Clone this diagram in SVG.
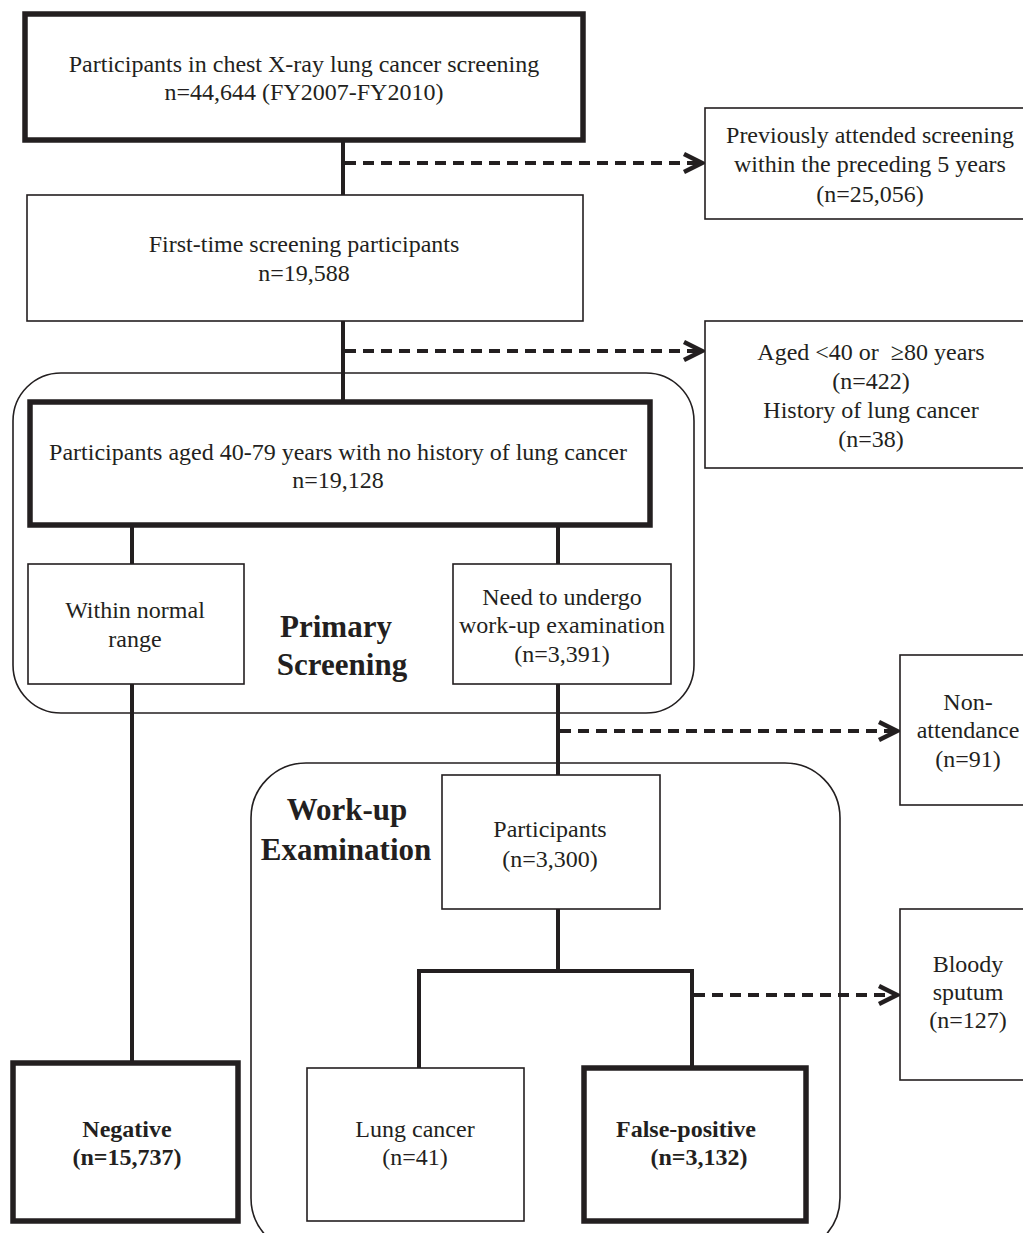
<svg xmlns="http://www.w3.org/2000/svg" width="1023" height="1233" viewBox="0 0 1023 1233">
<style>
text{font-family:"Liberation Serif","Times New Roman",serif;font-size:24px;fill:#231f20;text-anchor:middle}
.b{font-weight:bold}
.lbl{font-weight:bold;font-size:31px}
.thin{fill:#fff;stroke:#231f20;stroke-width:1.6}
.thick{fill:#fff;stroke:#231f20;stroke-width:5.5}
.grp{fill:none;stroke:#231f20;stroke-width:1.6}
.solid{stroke:#231f20;stroke-width:4;fill:none}
.dash{stroke:#231f20;stroke-width:4;fill:none;stroke-dasharray:11 7;marker-end:url(#arr)}
</style>
<defs>
<marker id="arr" markerUnits="userSpaceOnUse" markerWidth="26" markerHeight="26" refX="20" refY="11" orient="auto">
<path d="M2,2 L20,11 L2,20" fill="none" stroke="#231f20" stroke-width="4.5" stroke-linejoin="miter" stroke-dasharray="none"/>
</marker>
</defs>
<rect width="1023" height="1233" fill="#fff"/>
<g id="group-primary"><rect class="grp" x="13" y="373" width="681" height="340" rx="48"/><text class="lbl" x="336" y="637">Primary</text><text class="lbl" x="342" y="675">Screening</text></g>
<g id="group-workup"><rect class="grp" x="251" y="763" width="589" height="490" rx="55"/><text class="lbl" x="347" y="820">Work-up</text><text class="lbl" x="346" y="860">Examination</text></g>
<g id="connectors">
<line class="solid" x1="343" y1="140" x2="343" y2="195"/>
<line class="dash" x1="345" y1="163" x2="702" y2="163"/>
<line class="solid" x1="343" y1="321" x2="343" y2="402"/>
<line class="dash" x1="345" y1="351" x2="702" y2="351"/>
<line class="solid" x1="132" y1="525" x2="132" y2="564"/>
<line class="solid" x1="558" y1="525" x2="558" y2="564"/>
<line class="solid" x1="132" y1="684" x2="132" y2="1063"/>
<line class="solid" x1="558" y1="684" x2="558" y2="775"/>
<line class="dash" x1="560" y1="731" x2="897" y2="731"/>
<line class="solid" x1="558" y1="909" x2="558" y2="971"/>
<polyline class="solid" points="419,1068 419,971 692,971 692,1068"/>
<line class="dash" x1="694" y1="995" x2="897" y2="995"/>
</g>
<g id="n-all"><rect class="thick" x="25" y="14" width="558" height="126"/><text x="304" y="72">Participants in chest X-ray lung cancer screening</text><text x="304" y="100">n=44,644 (FY2007-FY2010)</text></g>
<g id="n-prev"><rect class="thin" x="705" y="108" width="330" height="111"/><text x="870" y="143">Previously attended screening</text><text x="870" y="172">within the preceding 5 years</text><text x="870" y="202">(n=25,056)</text></g>
<g id="n-first"><rect class="thin" x="27" y="195" width="556" height="126"/><text x="304" y="252">First-time screening participants</text><text x="304" y="281">n=19,588</text></g>
<g id="n-excl"><rect class="thin" x="705" y="321" width="330" height="147"/><text x="871" y="360" xml:space="preserve">Aged &lt;40 or  ≥80 years</text><text x="871" y="389">(n=422)</text><text x="871" y="418">History of lung cancer</text><text x="871" y="447">(n=38)</text></g>
<g id="n-aged"><rect class="thick" x="30" y="402" width="620" height="123"/><text x="338" y="460">Participants aged 40-79 years with no history of lung cancer</text><text x="338" y="488">n=19,128</text></g>
<g id="n-normal"><rect class="thin" x="28" y="564" width="216" height="120"/><text x="135" y="618">Within normal</text><text x="135" y="647">range</text></g>
<g id="n-need"><rect class="thin" x="453" y="564" width="218" height="120"/><text x="562" y="605">Need to undergo</text><text x="562" y="633">work-up examination</text><text x="562" y="662">(n=3,391)</text></g>
<g id="n-nonatt"><rect class="thin" x="900" y="655" width="130" height="150"/><text x="968" y="710">Non-</text><text x="968" y="738">attendance</text><text x="968" y="767">(n=91)</text></g>
<g id="n-part"><rect class="thin" x="442" y="775" width="218" height="134"/><text x="550" y="837">Participants</text><text x="550" y="867">(n=3,300)</text></g>
<g id="n-blood"><rect class="thin" x="900" y="909" width="130" height="171"/><text x="968" y="972">Bloody</text><text x="968" y="1000">sputum</text><text x="968" y="1028">(n=127)</text></g>
<g id="n-neg"><rect class="thick" x="13" y="1063" width="225" height="158" stroke-width="6"/><text class="b" x="127" y="1137">Negative</text><text class="b" x="127" y="1165">(n=15,737)</text></g>
<g id="n-lung"><rect class="thin" x="307" y="1068" width="217" height="153"/><text x="415" y="1137">Lung cancer</text><text x="415" y="1165">(n=41)</text></g>
<g id="n-fp"><rect class="thick" x="584" y="1068" width="222" height="153" stroke-width="6"/><text class="b" x="686" y="1137">False-positive</text><text class="b" x="699" y="1165">(n=3,132)</text></g>
</svg>
